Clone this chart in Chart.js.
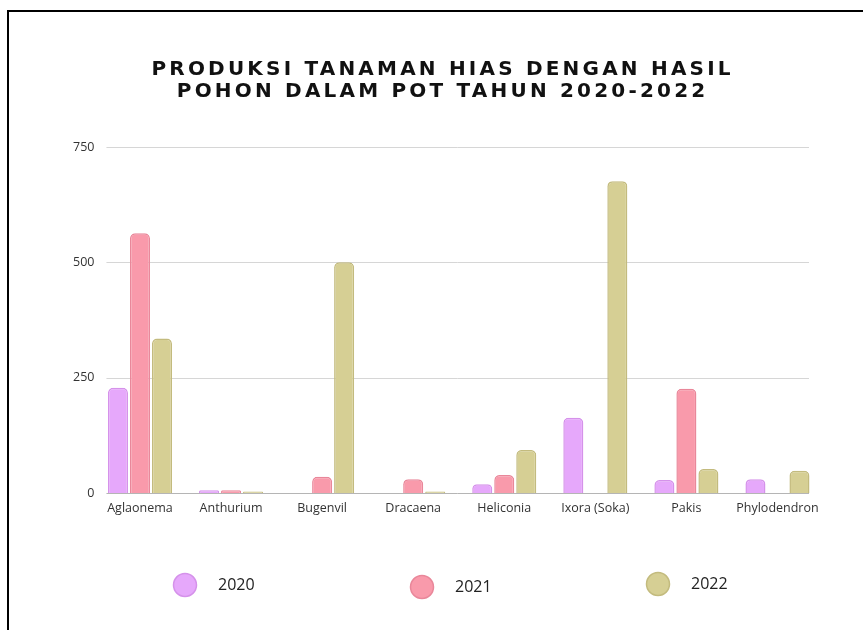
<!DOCTYPE html>
<html><head><meta charset="utf-8">
<script src="https://cdn.jsdelivr.net/npm/chart.js@4"></script>
<style>
html,body{margin:0;padding:0;background:#fff;}
#wrap{position:relative;width:863px;height:630px;overflow:hidden;background:#fff;}
#frame{position:absolute;left:7px;top:10px;width:900px;height:700px;border-left:2px solid #000;border-top:2px solid #000;pointer-events:none;}
canvas{position:absolute;left:0;top:0;}
</style></head><body>
<div id="wrap"><canvas id="c" width="863" height="630"></canvas><div id="frame"></div></div>
<script>
const titleLines = ['PRODUKSI TANAMAN HIAS DENGAN HASIL', 'POHON DALAM POT TAHUN 2020-2022'];
const categories = ['Aglaonema', 'Anthurium', 'Bugenvil', 'Dracaena', 'Heliconia', 'Ixora (Soka)', 'Pakis', 'Phylodendron'];
const seriesNames = ['2020', '2021', '2022'];
const values2020 = [228, 6, null, null, 19, 163, 28, 30];
const values2021 = [563, 6, 35, 30, 39, null, 226, null];
const values2022 = [335, 3, 500, 3, 93, 676, 52, 48];
const yTicks = [0, 250, 500, 750];

const fills = ['#e6a8fb', '#f99aab', '#d6cf94'];
const borders = ['#d592ea', '#e9879a', '#c3bb7e'];
const seriesValues = [values2020, values2021, values2022];

const titlePlugin = {
  id: 'customTitle',
  afterDraw(chart) {
    const ctx = chart.ctx;
    ctx.save();
    ctx.font = 'bold 20px "DejaVu Sans"';
    ctx.letterSpacing = '3.2px';
    ctx.fillStyle = '#111';
    ctx.textBaseline = 'middle';
    ctx.textAlign = 'left';
    const ys = [70, 92];
    titleLines.forEach((t, i) => {
      const w = ctx.measureText(t).width - 3.2;
      ctx.fillText(t, 441 - w / 2, ys[i]);
    });
    ctx.restore();
  }
};

const gridPlugin = {
  id: 'insetGrid',
  beforeDatasetsDraw(chart) {
    const ctx = chart.ctx;
    const y = chart.scales.y;
    const a = chart.chartArea;
    ctx.save();
    y.ticks.forEach(t => {
      const py = Math.round(y.getPixelForValue(t.value)) + 0.5;
      ctx.beginPath();
      ctx.strokeStyle = t.value === 0 ? '#b5b5b5' : '#d6d6d6';
      ctx.lineWidth = 1;
      ctx.moveTo(a.left + 12, py);
      ctx.lineTo(a.right - 14, py);
      ctx.stroke();
    });
    ctx.restore();
  }
};

const legendPlugin = {
  id: 'customLegend',
  afterDraw(chart) {
    const ctx = chart.ctx;
    const xs = [185, 422, 658];
    const ys = [585, 587, 584];
    ctx.save();
    chart.data.datasets.forEach((ds, i) => {
      ctx.beginPath();
      ctx.arc(xs[i], ys[i], 11.5, 0, Math.PI * 2);
      ctx.fillStyle = ds.backgroundColor;
      ctx.fill();
      ctx.lineWidth = 1.5;
      ctx.strokeStyle = ds.borderColor;
      ctx.stroke();
      ctx.font = '16px "Open Sans"';
      ctx.fillStyle = '#222';
      ctx.textBaseline = 'middle';
      ctx.textAlign = 'left';
      ctx.fillText(ds.label, xs[i] + 33, ys[i]);
    });
    ctx.restore();
  }
};

new Chart(document.getElementById('c'), {
  type: 'bar',
  data: {
    labels: categories,
    datasets: seriesNames.map((n, i) => ({
      label: n,
      data: seriesValues[i],
      backgroundColor: fills[i],
      borderColor: borders[i],
      borderWidth: 1.5,
      borderRadius: 5,
      borderSkipped: 'start',
      categoryPercentage: 0.725,
      barPercentage: 0.91
    }))
  },
  options: {
    responsive: false,
    animation: false,
    devicePixelRatio: 1,
    layout: { padding: { left: 73, right: 40, top: 147, bottom: 106 } },
    plugins: { legend: { display: false }, title: { display: false }, tooltip: { enabled: false } },
    scales: {
      x: {
        grid: { display: false, drawTicks: false },
        border: { display: false },
        ticks: { font: { family: 'Open Sans', size: 12.5 }, color: '#333', padding: 8, maxRotation: 0, autoSkip: false }
      },
      y: {
        min: 0, max: 750,
        afterBuildTicks(scale) { scale.ticks = yTicks.map(v => ({ value: v })); },
        grid: { display: false, drawTicks: false },
        border: { display: false },
        ticks: { font: { family: 'Open Sans', size: 12.5 }, color: '#333', padding: 0 }
      }
    }
  },
  plugins: [gridPlugin, titlePlugin, legendPlugin]
});
</script>
</body></html>
